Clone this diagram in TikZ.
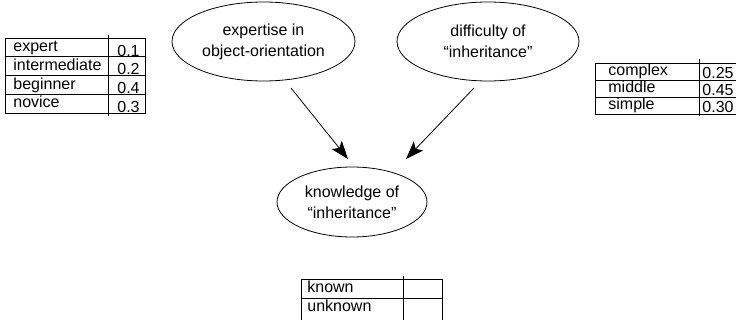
\documentclass[tikz,border=0pt]{standalone}
\usepackage{fontspec}
\setmainfont{Liberation Sans}
\usetikzlibrary{arrows.meta,shapes.geometric}

\begin{document}
\begin{tikzpicture}[x=1pt, y=-1pt, line width=0.8pt,
	every node/.style={font=\fontsize{16}{21}\selectfont, inner sep=0pt},
	var/.style={draw, ellipse, align=center, line width=0.8pt},
	cell/.style={anchor=base west},
	link/.style={-{Stealth[length=18pt, width=13pt, inset=4pt]}}]
	\useasboundingbox (0, 0) rectangle (736, 320);
	% variables
	\node[var, minimum width=183, minimum height=79] (expertise) at (263.5, 41.5) {expertise in\\object-orientation};
	\node[var, minimum width=182, minimum height=79] (difficulty) at (488, 41.5) {difficulty of\\``inheritance''};
	\node[var, minimum width=150, minimum height=70] (knowledge) at (352, 202) {knowledge of\\``inheritance''};
	\coordinate (e1) at (291, 88);
	\coordinate (k1) at (348, 159);
	\coordinate (d1) at (474, 88);
	\coordinate (k2) at (406, 159);
	\draw[link] (e1) -- (k1);
	\draw[link] (d1) -- (k2);
	% table of expertise
	\draw (5, 38) rectangle (145, 113);
	\draw (5, 56.75) -- (145, 56.75);
	\draw (5, 75.5) -- (145, 75.5);
	\draw (5, 94.25) -- (145, 94.25);
	\draw (108, 35) -- (108, 116);
	\node[cell] (expert) at (13, 51.75) {expert};
	\node[cell] (intermediate) at (13, 70.5) {intermediate};
	\node[cell] (beginner) at (13, 89.25) {beginner};
	\node[cell] (novice) at (13, 108) {novice};
	\node[cell] (pexpert) at (117, 56.25) {0.1};
	\node[cell] (pintermediate) at (117, 75) {0.2};
	\node[cell] (pbeginner) at (117, 93.75) {0.4};
	\node[cell] (pnovice) at (117, 112.5) {0.3};
	% table of difficulty
	\draw (737, 63) -- (595, 63) -- (595, 114) -- (737, 114);
	\draw (595, 80) -- (737, 80);
	\draw (595, 97) -- (737, 97);
	\draw (699, 59) -- (699, 116);
	\node[cell] (complex) at (608, 75.5) {complex};
	\node[cell] (middle) at (608, 92.5) {middle};
	\node[cell] (simple) at (608, 109.5) {simple};
	\node[cell] (pcomplex) at (702, 79) {0.25};
	\node[cell] (pmiddle) at (702, 96) {0.45};
	\node[cell] (psimple) at (702, 113) {0.30};
	% table of knowledge
	\draw (301, 321) -- (301, 279) -- (442, 279) -- (442, 321);
	\draw (301, 298) -- (442, 298);
	\draw (403, 276) -- (403, 321);
	\node[cell] (known) at (307, 293) {known};
	\node[cell] (unknown) at (307, 312) {unknown};
\end{tikzpicture}
\end{document}
